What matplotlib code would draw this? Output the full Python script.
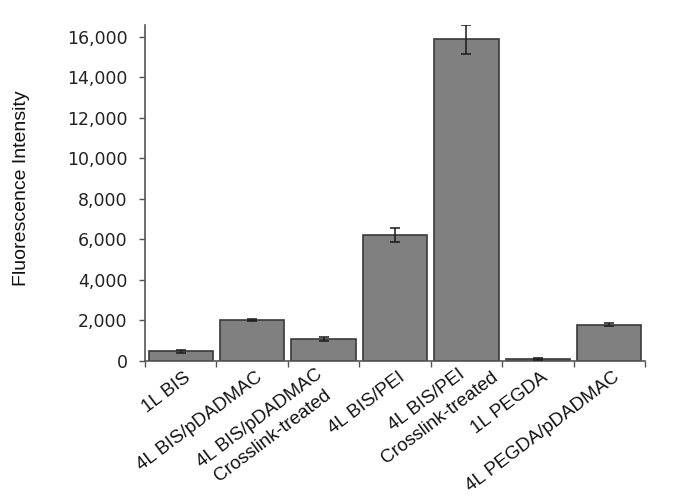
import numpy as np
import matplotlib
matplotlib.use("Agg")
import matplotlib.pyplot as plt
from matplotlib.font_manager import FontProperties
from matplotlib.transforms import blended_transform_factory, ScaledTranslation
from matplotlib.ticker import FuncFormatter

categories = ["1L BIS", "4L BIS/pDADMAC", "4L BIS/pDADMAC\nCrosslink-treated", "4L BIS/PEI",
              "4L BIS/PEI\nCrosslink-treated", "1L PEGDA", "4L PEGDA/pDADMAC"]
values = [480, 2020, 1080, 6220, 15880, 90, 1800]
errors = [70, 40, 110, 340, 700, 60, 70]
yticks = [0, 2000, 4000, 6000, 8000, 10000, 12000, 14000, 16000]

DPI = 100
fig = plt.figure(figsize=(6.89, 5.03), dpi=DPI)
ax = fig.add_axes([145/689, 142/503, 500/689, 336/503])

x = np.arange(len(values))
ax.bar(x, values, width=0.9, color="#808080", edgecolor="#3a3a3a", linewidth=1.2, zorder=2)
ax.errorbar(x, values, yerr=errors, fmt="none", ecolor="#1a1a1a", elinewidth=1.1,
            capsize=3.5, capthick=1.1, zorder=3)

ax.set_xlim(-0.5, len(values) - 0.5)
ax.set_ylim(0, 16590)
ax.set_yticks(yticks)
ax.yaxis.set_major_formatter(FuncFormatter(lambda v, p: f"{int(v):,}"))
ax.set_xticks(np.arange(len(values) + 1) - 0.5)
ax.set_xticklabels([])

for s in ["top", "right"]:
    ax.spines[s].set_visible(False)
for s in ["left", "bottom"]:
    ax.spines[s].set_color("#555555")
    ax.spines[s].set_linewidth(1.2)

ax.tick_params(axis="y", direction="out", length=4.5, width=1, color="#555555",
               pad=8, labelsize=12.5, labelcolor="#222222")
ax.tick_params(axis="x", direction="out", length=4, width=1, color="#555555")
for t in ax.get_yticklabels():
    t.set_family("DejaVu Sans")

fig.text(22/689, 1 - 188/503, "Fluorescence Intensity", rotation=90, ha="center", va="center",
         family="Liberation Sans", fontsize=14, color="#111111")

# rotated category labels
rot = 37
fp = FontProperties(family="Liberation Sans", size=13.5)
fig.canvas.draw()
renderer = fig.canvas.get_renderer()
th = np.deg2rad(rot)
u = np.array([np.cos(th), np.sin(th)])
base = blended_transform_factory(ax.transData, ax.transAxes)
for i, lab in enumerate(categories):
    lines = lab.split("\n")
    widths = [renderer.get_text_width_height_descent(l, fp, ismath=False)[0] for l in lines]
    extra = (max(widths) - widths[0]) / 2.0
    if len(lines) == 1:
        dx, dy = 3, -8
    else:
        dx, dy = -8, -5
    ox = dx + extra * u[0]
    oy = dy + extra * u[1]
    tr = base + ScaledTranslation(ox / DPI, oy / DPI, fig.dpi_scale_trans)
    ax.text(i, 0, lab, transform=tr, rotation=rot, rotation_mode="anchor", ha="right", va="top",
            multialignment="center", fontproperties=fp, color="#111111", linespacing=1.35)

fig.savefig("out.png", dpi=DPI, facecolor="white")
